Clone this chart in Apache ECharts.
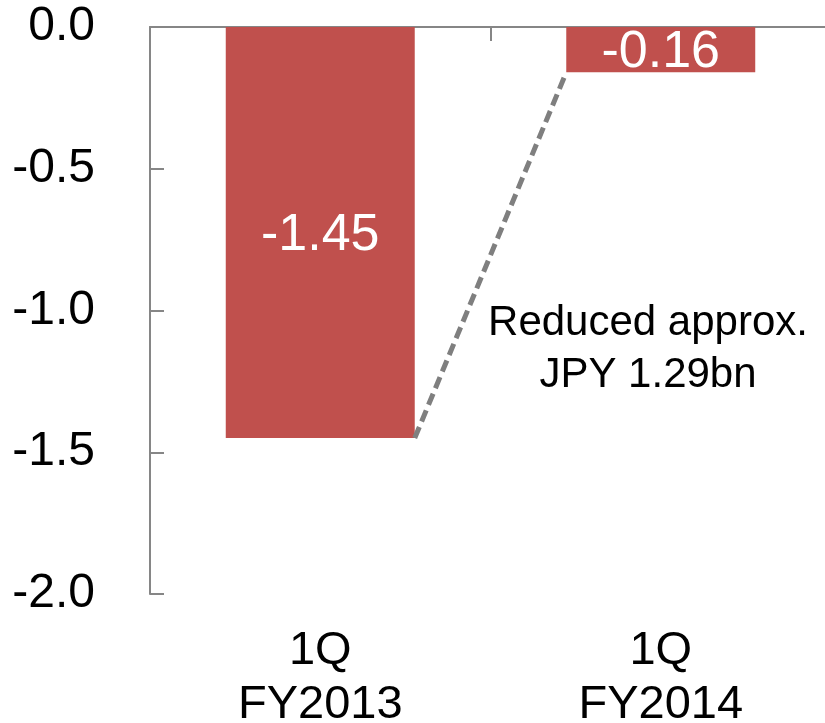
<!DOCTYPE html>
<html>
<head>
<meta charset="utf-8">
<script src="https://cdn.jsdelivr.net/npm/echarts@6/dist/echarts.min.js"></script>
<style>
  html, body { margin: 0; padding: 0; background: #fff; }
  #chart { width: 825px; height: 723px; }
</style>
</head>
<body>
<div id="chart"></div>
<script>
// Quarterly result (JPY bn), first quarter of each fiscal year
const categories = ['1Q\nFY2013', '1Q\nFY2014'];
const values = [-1.45, -0.16];
const yTicks = { min: -2.0, max: 0.0, interval: 0.5 };
const noteLines = ['Reduced approx.', 'JPY 1.29bn'];

const BAR_RATIO = 0.555;           // bar width as a share of one category band
const FONT = '"Liberation Sans", Arial, sans-serif';
const AXIS_COLOR = '#868686';
const BAR_COLOR = '#C0504D';

// Connector between the bottom-right corner of the first bar and the
// bottom-left corner of the second, on a hidden value axis where
// category i spans [i, i + 1].
const connector = [
  [0.5 + BAR_RATIO / 2, values[0]],
  [1.5 - BAR_RATIO / 2, values[1]]
];

const chart = echarts.init(document.getElementById('chart'), null, { renderer: 'canvas' });

chart.setOption({
  animation: false,
  backgroundColor: '#ffffff',
  grid: {
    left: 150, width: 681, top: 27, bottom: 129,
    containLabel: false,
    outerBoundsMode: 'none'
  },
  xAxis: [
    {
      type: 'category',
      data: categories,
      position: 'bottom',
      axisLine: { show: false, onZero: false },
      axisTick: { show: false },
      axisLabel: {
        color: '#000',
        fontFamily: FONT,
        fontSize: 47,
        lineHeight: 54,
        margin: 30
      }
    },
    {
      type: 'category',
      data: categories,
      position: 'top',
      axisLine: { show: true, onZero: false, lineStyle: { color: AXIS_COLOR, width: 2 } },
      axisTick: { show: true, inside: true, length: 14, lineStyle: { color: AXIS_COLOR, width: 2 } },
      axisLabel: { show: false }
    },
    {
      type: 'value',
      min: 0,
      max: categories.length,
      show: false
    }
  ],
  yAxis: {
    type: 'value',
    min: yTicks.min,
    max: yTicks.max,
    interval: yTicks.interval,
    axisLine: { show: true, lineStyle: { color: AXIS_COLOR, width: 2 } },
    axisTick: { show: true, inside: true, length: 14, lineStyle: { color: AXIS_COLOR, width: 2 } },
    splitLine: { show: false },
    axisLabel: {
      color: '#000',
      fontFamily: FONT,
      fontSize: 48,
      margin: 55,
      formatter: v => v.toFixed(1)
    }
  },
  series: [
    {
      type: 'bar',
      xAxisIndex: 0,
      data: values,
      barWidth: (BAR_RATIO * 100) + '%',
      itemStyle: { color: BAR_COLOR },
      label: {
        show: true,
        position: 'inside',
        offset: [0, 3],
        color: '#fff',
        fontFamily: FONT,
        fontSize: 52,
        formatter: p => p.value.toFixed(2)
      },
      z: 2
    },
    {
      type: 'line',
      xAxisIndex: 2,
      data: connector,
      symbol: 'none',
      lineStyle: { color: '#7F7F7F', width: 5, type: [12, 6] },
      z: 3
    }
  ],
  graphic: [
    {
      type: 'text',
      x: 648,
      y: 297,
      style: {
        text: noteLines.join('\n'),
        fill: '#000',
        font: '42px ' + FONT,
        lineHeight: 52,
        align: 'center',
        verticalAlign: 'top'
      }
    }
  ]
});
</script>
</body>
</html>
